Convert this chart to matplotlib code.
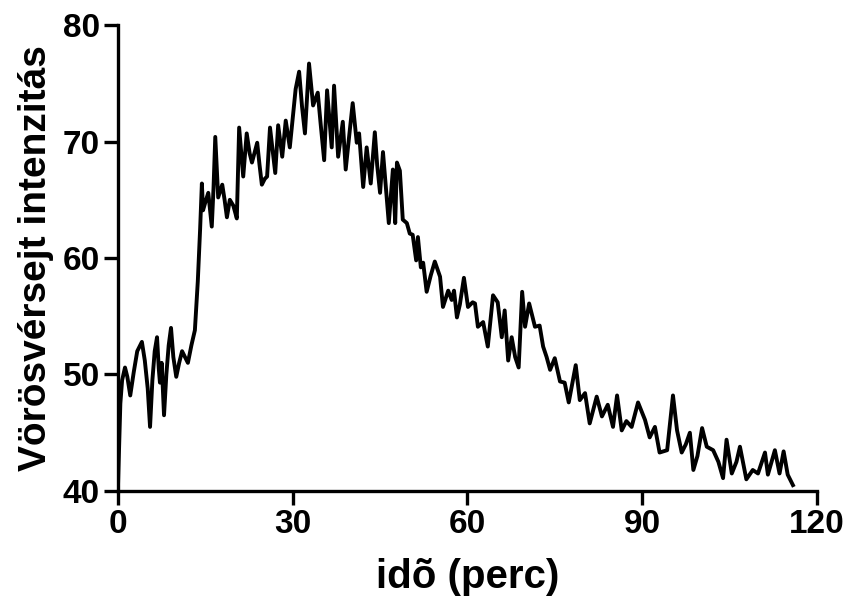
import matplotlib
matplotlib.use("Agg")
import matplotlib.pyplot as plt

# idő (perc) és vörösvérsejt intenzitás
ido = [0.0, 0.4, 0.7, 1.2, 1.6, 2.1, 2.7, 3.3, 4.1, 4.6, 5.1, 5.5, 5.9, 6.3, 6.7,
       7.0, 7.2, 7.5, 7.9, 8.3, 8.7, 9.1, 9.5, 10.0, 10.5, 11.0, 11.5, 12.0, 12.6,
       13.2, 13.7, 14.1, 14.4, 14.6, 15.0, 15.5, 16.1, 16.4, 16.7, 17.2, 17.9, 18.3,
       18.7, 19.2, 19.8, 20.4, 20.8, 21.5, 22.1, 22.6, 23.0, 23.9, 24.3, 24.7, 25.2,
       25.6, 26.1, 27.0, 27.5, 28.2, 28.8, 29.5, 30.0, 30.5, 31.1, 31.6, 32.1, 32.8,
       33.5, 34.3, 34.8, 35.4, 35.9, 36.3, 36.7, 37.1, 37.8, 38.6, 39.1, 39.7, 40.3,
       41.0, 41.4, 42.1, 42.7, 43.4, 44.1, 44.5, 45.0, 45.5, 46.0, 46.5, 47.2, 47.6,
       47.9, 48.4, 48.9, 49.6, 50.1, 50.6, 51.2, 51.5, 52.0, 52.4, 53.0, 53.7, 54.4,
       55.3, 55.8, 56.7, 57.3, 57.7, 58.2, 58.7, 59.4, 60.1, 60.9, 61.3, 61.8, 62.7,
       63.5, 64.4, 65.2, 65.9, 66.4, 67.0, 67.6, 68.2, 68.8, 69.4, 69.9, 70.6, 71.6,
       72.4, 73.0, 73.6, 74.2, 75.0, 75.9, 76.7, 77.4, 78.6, 79.3, 80.2, 81.0, 82.2,
       83.1, 84.1, 85.0, 85.7, 86.5, 87.3, 88.2, 89.3, 90.5, 91.3, 92.2, 93.0, 94.3,
       95.3, 96.0, 96.8, 97.5, 98.2, 98.8, 99.5, 100.3, 101.1, 102.2, 103.1, 103.9,
       104.5, 105.4, 106.2, 106.8, 107.9, 109.0, 109.9, 111.1, 111.6, 112.8, 113.6,
       114.3, 115.0, 115.9]
intenzitas = [40.5, 47.5, 49.5, 50.6, 49.8, 48.2, 50.2, 52.0, 52.8, 51.2, 48.8, 45.5,
              49.5, 52.0, 53.2, 50.5, 49.3, 51.0, 46.5, 50.0, 52.5, 54.0, 51.5, 49.8,
              51.0, 52.0, 51.5, 51.0, 52.5, 53.8, 58.0, 62.5, 66.4, 64.1, 64.8, 65.6,
              62.7, 66.0, 70.4, 65.2, 66.3, 65.0, 63.5, 65.0, 64.5, 63.4, 71.2, 67.0,
              70.7, 69.0, 68.2, 69.9, 68.0, 66.3, 66.8, 67.0, 71.2, 67.3, 71.4, 68.7,
              71.8, 69.5, 72.0, 74.5, 76.0, 73.0, 70.7, 76.7, 73.1, 74.2, 71.5, 68.4,
              74.4, 72.0, 69.5, 74.8, 68.7, 71.7, 67.6, 70.5, 73.3, 69.9, 70.7, 66.1,
              69.5, 66.4, 70.8, 68.0, 65.6, 69.1, 66.0, 63.0, 67.6, 63.0, 68.2, 67.5,
              63.3, 63.0, 62.1, 62.0, 59.8, 61.8, 59.2, 59.6, 57.1, 58.5, 59.7, 58.4,
              55.8, 57.2, 56.4, 57.2, 54.9, 56.0, 58.3, 55.8, 56.2, 56.1, 54.1, 54.5,
              52.4, 56.8, 56.2, 53.2, 55.5, 51.2, 53.2, 51.5, 50.6, 57.1, 54.1, 56.1,
              54.1, 54.2, 52.4, 51.5, 50.4, 51.4, 49.4, 49.3, 47.6, 50.8, 47.8, 48.4,
              45.8, 48.1, 46.4, 47.4, 45.5, 48.2, 45.2, 46.0, 45.5, 47.6, 46.1, 44.6,
              45.5, 43.3, 43.5, 48.2, 45.2, 43.3, 44.0, 45.0, 41.8, 43.0, 45.4, 43.8,
              43.5, 42.5, 41.1, 44.4, 41.5, 42.5, 43.8, 41.0, 41.8, 41.5, 43.3, 41.4,
              43.5, 41.5, 43.4, 41.4, 40.5]

x_ticks = [0, 30, 60, 90, 120]
y_ticks = [40, 50, 60, 70, 80]

plt.rcParams['font.family'] = ['Liberation Sans', 'DejaVu Sans']
plt.rcParams['font.weight'] = 'bold'

fig = plt.figure(figsize=(8.46, 5.98), dpi=100)
ax = fig.add_axes([0.1395, 0.179, 0.826, 0.779])

ax.plot(ido, intenzitas, color='black', linewidth=2.8, solid_joinstyle='round')

ax.set_xlim(0, 120)
ax.set_ylim(40, 80)
ax.set_xticks(x_ticks)
ax.set_yticks(y_ticks)

for side in ['top', 'right']:
    ax.spines[side].set_visible(False)
for side in ['left', 'bottom']:
    ax.spines[side].set_linewidth(2.4)

ax.tick_params(axis='both', direction='out', length=10, width=2.4,
               labelsize=24, pad=3)
for lab in ax.get_xticklabels() + ax.get_yticklabels():
    lab.set_fontweight('bold')

ax.set_xlabel('idõ (perc)', fontsize=29, fontweight='bold', labelpad=13)
ax.set_ylabel('Vörösvérsejt intenzitás', fontsize=28, fontweight='bold', labelpad=6)

fig.savefig('out.png', dpi=100)
